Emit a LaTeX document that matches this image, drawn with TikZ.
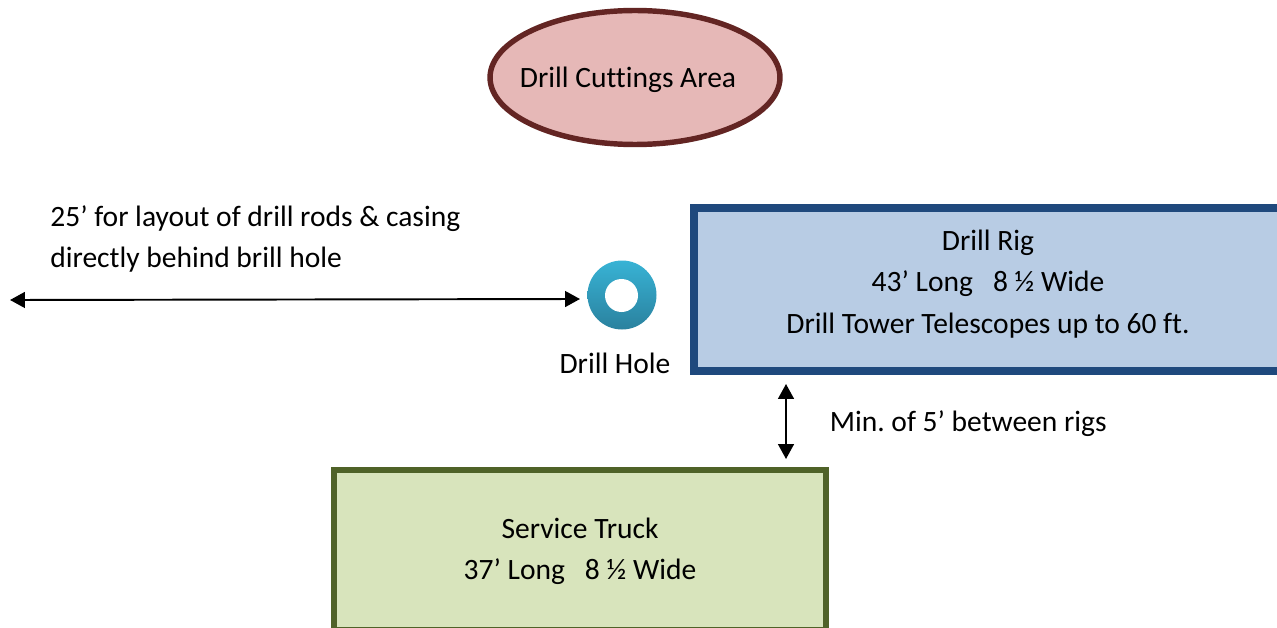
\documentclass[tikz,border=0pt]{standalone}
\usepackage{fontspec}
\setmainfont[Ligatures=NoCommon]{Carlito}
\usepackage{xcolor}
\usetikzlibrary{calc,arrows.meta,positioning,shapes.geometric}
\definecolor{rigblue}{HTML}{1F497D}
\definecolor{rigfill}{HTML}{B8CCE4}
\definecolor{truckgreen}{HTML}{4F6228}
\definecolor{truckfill}{HTML}{D8E4BC}
\definecolor{pilered}{HTML}{632523}
\definecolor{pilefill}{HTML}{E6B8B7}
\definecolor{holetop}{HTML}{38B3D5}
\definecolor{holebottom}{HTML}{2A819E}
\frenchspacing
\tikzset{
  lbl/.style={font=\fontsize{16.8}{23.6}\selectfont, inner sep=0pt, align=left},
  dimline/.style={line width=1.1pt, {Triangle[length=8.5pt,width=9pt]}-{Triangle[length=8.5pt,width=9pt]}},
}
\begin{document}
\begin{tikzpicture}[x=0.02cm,y=-0.02cm]

\useasboundingbox (0,0) rectangle (1277,628);
\clip (0,0) rectangle (1277,628);

\node[ellipse, draw=pilered, fill=pilefill, line width=3.1pt, minimum width=5.8cm, minimum height=2.68cm, inner sep=0pt] (cuttings) at (635,77.5) {};
\node[lbl] (cuttingslabel) at (628,80) {Drill Cuttings Area};

\node[draw=rigblue, fill=rigfill, line width=4.5pt, minimum width=11.78cm, minimum height=3.26cm, inner sep=0pt] (rig) at (988,289.5) {};
\node[lbl, align=center] (riglabel) at (988,284) {Drill Rig\\43’ Long\ \ \ 8 ½ Wide\\Drill Tower Telescopes up to 60 ft.};

\node[draw=truckgreen, fill=truckfill, line width=3.4pt, minimum width=9.84cm, minimum height=3.2cm, inner sep=0pt] (truck) at (580,550) {};
\node[lbl, align=center] (trucklabel) at (580,551.5) {Service Truck\\37’ Long\ \ \ 8 ½ Wide};

% drill hole
\shade[top color=holetop, bottom color=holebottom] (622,295) circle (34.5);
\fill[white] (621.5,295.5) circle (16.5);
\coordinate (hole) at (580,299);
\coordinate (farleft) at (10,300);
\node[lbl] (holelabel) at (615,363) {Drill Hole};

\node[lbl, anchor=west] (layoutlabel) at (50,239) {25’ for layout of drill rods \&\ casing\\directly behind brill hole};
\draw[dimline] (farleft) -- (hole);

\coordinate (gaptop) at (786,384);
\coordinate (gapbottom) at (786,459);
\draw[dimline] (gaptop) -- (gapbottom);
\node[lbl, anchor=west] (gaplabel) at (829.5,424) {Min. of 5’ between rigs};

\end{tikzpicture}
\end{document}
